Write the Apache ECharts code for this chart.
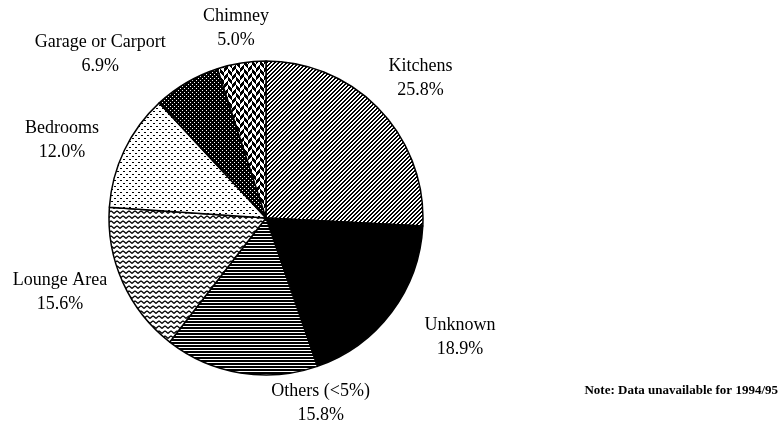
<!doctype html>
<html>
<head>
<meta charset="utf-8">
<script src="https://cdn.jsdelivr.net/npm/echarts@6/dist/echarts.min.js"></script>
<style>
    html, body { margin: 0; padding: 0; background: #fff; }
    #chart { width: 782px; height: 425px; }
</style>
</head>
<body>
<div id="chart"></div>
<script>
    // slices, clockwise from 12 o'clock
    let categories = ['Kitchens', 'Unknown', 'Others (<5%)', 'Lounge Area', 'Bedrooms', 'Garage or Carport', 'Chimney'];
    let shares = [25.8, 18.9, 15.8, 15.6, 12.0, 6.9, 5.0];
    let noteText = 'Note: Data unavailable for 1994/95';

    // label placement tweaks (px) from the mid-angle anchor
    let labelShift = [[6, 2], [30, -4], [88, -17], [-19, -10], [-19, 11], [-62, 13], [2, 13]];

    let cx = 266, cy = 218, radius = 157, labelRadius = 205;
    let font = 'Liberation Serif';

    // bitmap tile -> canvas pattern
    function tile(w, h, isBlack) {
        let c = document.createElement('canvas');
        c.width = w;
        c.height = h;
        let ctx = c.getContext('2d');
        ctx.fillStyle = '#fff';
        ctx.fillRect(0, 0, w, h);
        ctx.fillStyle = '#000';
        for (let y = 0; y < h; y++) {
            for (let x = 0; x < w; x++) {
                if (isBlack(x, y)) ctx.fillRect(x, y, 1, 1);
            }
        }
        return {image: c, repeat: 'repeat'};
    }

    function wavyTile() {
        let c = document.createElement('canvas');
        c.width = 6;
        c.height = 5;
        let ctx = c.getContext('2d');
        ctx.fillStyle = '#fff';
        ctx.fillRect(0, 0, 6, 5);
        ctx.strokeStyle = '#000';
        ctx.lineWidth = 1.3;
        ctx.beginPath();
        ctx.moveTo(0, 3.5);
        ctx.lineTo(1.5, 2);
        ctx.lineTo(3, 1);
        ctx.lineTo(4.5, 2);
        ctx.lineTo(6, 3.5);
        ctx.stroke();
        return {image: c, repeat: 'repeat'};
    }

    let fills = [
        tile(4, 4, function (x, y) { return (x + y) % 4 < 2; }),
        '#000',
        tile(1, 3, function (x, y) { return y < 2; }),
        wavyTile(),
        tile(6, 6, function (x, y) { return (x == 0 && y == 0) || (x == 3 && y == 3) || (x == 1 && y == 0) || (x == 4 && y == 3); }),
        tile(4, 4, function (x, y) { return !((x == 0 && y == 0) || (x == 2 && y == 2)); }),
        tile(8, 8, function (x, y) {
            if (x < 4) return ((x + y) & 7) >= 4;
            return ((x - y + 8) & 7) >= 4;
        })
    ];

    // mid angle of each slice, degrees clockwise from top
    let midAngle = [];
    let acc = 0;
    let total = shares.reduce(function (a, b) { return a + b; }, 0);
    for (let i = 0; i < shares.length; i++) {
        midAngle.push((acc + shares[i] / 2) / total * 360);
        acc += shares[i];
    }

    let pieData = [];
    for (let i = 0; i < categories.length; i++) {
        pieData.push({
            name: categories[i],
            value: shares[i],
            itemStyle: {color: fills[i]}
        });
    }

    let chart = echarts.init(document.getElementById('chart'), null, {renderer: 'canvas'});
    chart.setOption({
        animation: false,
        backgroundColor: '#fff',
        title: {
            text: noteText,
            right: 4,
            top: 384,
            padding: 0,
            textStyle: {fontFamily: font, fontSize: 13, fontWeight: 'bold', color: '#000'}
        },
        series: [{
            type: 'pie',
            center: [cx, cy],
            radius: radius,
            startAngle: 90,
            clockwise: true,
            avoidLabelOverlap: false,
            data: pieData,
            itemStyle: {borderColor: '#000', borderWidth: 1.5},
            emphasis: {disabled: true},
            labelLine: {show: false},
            label: {
                show: true,
                position: 'outside',
                color: '#000',
                fontFamily: font,
                fontSize: 18,
                lineHeight: 24,
                formatter: function (p) {
                    return p.name + '\n' + p.value.toFixed(1) + '%';
                }
            },
            labelLayout: function (params) {
                let i = params.dataIndex;
                let a = midAngle[i] * Math.PI / 180;
                return {
                    x: cx + labelRadius * Math.sin(a) + labelShift[i][0],
                    y: cy - labelRadius * Math.cos(a) + labelShift[i][1],
                    align: 'center',
                    verticalAlign: 'middle'
                };
            }
        }]
    });
</script>
</body>
</html>
